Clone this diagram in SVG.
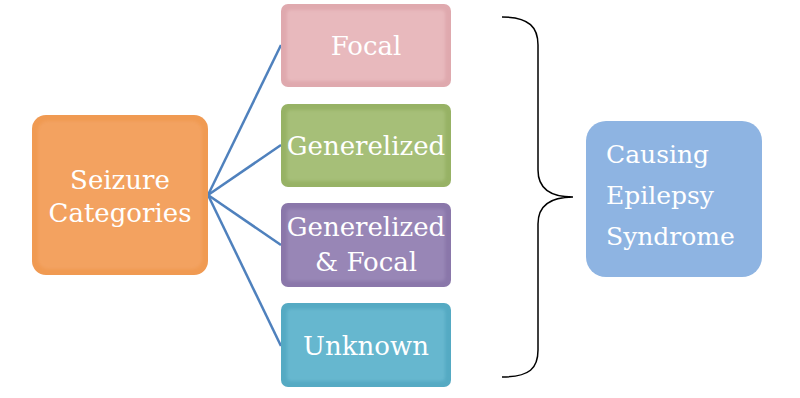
<svg xmlns="http://www.w3.org/2000/svg" width="800" height="398" viewBox="0 0 800 398">
<defs>
<style>
.t{font-family:"DejaVu Serif","Liberation Serif",serif;font-size:26px;fill:#ffffff;text-anchor:middle}
.c{fill:none;stroke:#4F81BD;stroke-width:2.5}
.brace{fill:none;stroke:#000;stroke-width:1.5}
.hl{fill:none;stroke:#ffffff;stroke-opacity:0.35;stroke-width:2}
.sh{fill:none;stroke:#000;stroke-opacity:0.12;stroke-width:2}
</style>
<filter id="soft" x="-10%" y="-10%" width="120%" height="120%">
<feGaussianBlur stdDeviation="1.5"/>
</filter>
</defs>
<rect width="800" height="398" fill="#ffffff"/>
<g id="connectors">
<line class="c" x1="208" y1="195" x2="281" y2="45"/>
<line class="c" x1="208" y1="195" x2="281" y2="145"/>
<line class="c" x1="208" y1="195" x2="281" y2="245"/>
<line class="c" x1="208" y1="195" x2="281" y2="346"/>
<path class="brace" d="M502,17 C530,17 538,28 538,45 L538,170 C538,188 550,197 573,197 C550,197 538,206 538,224 L538,350 C538,368 530,377 502,377"/>
</g>
<g id="seizure">
<rect x="32" y="115" width="176" height="160" rx="14" fill="#F09A52"/>
<rect x="38" y="121" width="164" height="148" rx="10" fill="#F3A261" filter="url(#soft)"/>
<text class="t" x="120" y="189">Seizure</text>
<text class="t" x="120" y="222">Categories</text>
</g>
<g id="focal">
<rect x="281" y="4" width="170" height="83" rx="7" fill="#DFA9AE"/>
<rect x="287" y="10" width="158" height="71" rx="4" fill="#E8B9BD" filter="url(#soft)"/>
<text class="t" x="366" y="55">Focal</text>
</g>
<g id="generelized">
<rect x="281" y="104" width="170" height="83" rx="7" fill="#97B265"/>
<rect x="287" y="110" width="158" height="71" rx="4" fill="#A6BF78" filter="url(#soft)"/>
<text class="t" x="366" y="155">Generelized</text>
</g>
<g id="generelized-focal">
<rect x="281" y="203" width="170" height="84" rx="7" fill="#8A77AA"/>
<rect x="287" y="209" width="158" height="72" rx="4" fill="#9886B6" filter="url(#soft)"/>
<text class="t" x="366" y="236">Generelized</text>
<text class="t" x="366" y="271">&amp; Focal</text>
</g>
<g id="unknown">
<rect x="281" y="303" width="170" height="84" rx="7" fill="#55AAC3"/>
<rect x="287" y="309" width="158" height="72" rx="4" fill="#66B7CF" filter="url(#soft)"/>
<text class="t" x="366" y="355">Unknown</text>
</g>
<g id="syndrome">
<rect x="586" y="121" width="176" height="156" rx="20" fill="#8EB4E2"/>
<text class="t" style="text-anchor:start;font-size:25px" x="606" y="163">Causing</text>
<text class="t" style="text-anchor:start;font-size:25px" x="606" y="204">Epilepsy</text>
<text class="t" style="text-anchor:start;font-size:25px" x="606" y="245">Syndrome</text>
</g>
</svg>
